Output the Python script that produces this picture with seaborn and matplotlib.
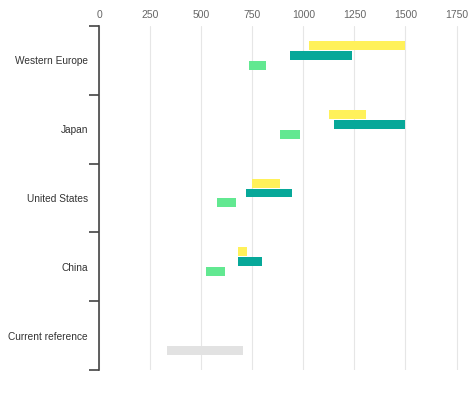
import pandas as pd
import numpy as np
import seaborn as sns
import matplotlib.pyplot as plt
from matplotlib.ticker import FixedLocator

## Data
regions = ["Western Europe", "Japan", "United States", "China", "Current reference"]
series = ["Scenario A", "Scenario B", "Scenario C", "Reference"]
colors = ["#fff15a", "#07a899", "#62e891", "#e2e2e2"]

# (start, end) per region, None where the series has no bar
scen_a = [(1030, 1500), (1125, 1305), (748, 888), (682, 722), None]
scen_b = [(937, 1237), (1152, 1500), (718, 942), (682, 800), None]
scen_c = [(735, 816), (885, 986), (578, 670), (523, 616), None]
reference = [None, None, None, None, (334, 705)]

xticks = [0, 250, 500, 750, 1000, 1250, 1500, 1750]

rows = []
for name, vals in zip(series, [scen_a, scen_b, scen_c, reference]):
    for reg, v in zip(regions, vals):
        if v is not None:
            rows.append({"region": reg, "series": name, "start": v[0], "end": v[1]})
df = pd.DataFrame(rows)

sns.set_style("white")
plt.rcParams["font.family"] = ["Liberation Sans", "DejaVu Sans"]

fig = plt.figure(figsize=(4.74, 3.94), dpi=100)
ax = fig.add_axes([0.209, 0.061, 0.765, 0.873])

sns.barplot(data=df, y="region", x="end", hue="series", order=regions,
            hue_order=series, palette=colors, saturation=1, orient="h",
            width=0.58, gap=0.1, errorbar=None, legend=False, ax=ax, zorder=3)

# turn the bars into floating ranges: move each bar's left edge to its start
for name, cont in zip(series, ax.containers):
    sub = df[df.series == name]
    for bar in cont:
        end = bar.get_width()
        hit = sub[np.isclose(sub.end, end)]
        if len(hit):
            start = hit.start.iloc[0]
            bar.set_x(start)
            bar.set_width(end - start)
        bar.set_linewidth(0)

ax.set_xlim(0, 1775)
ax.set_ylim(4.5, -0.5)
ax.set_xticks(xticks)
ax.xaxis.tick_top()
ax.tick_params(axis="x", length=0, pad=4, labelsize=7.5, labelcolor="#666666")
ax.grid(axis="x", color="#e6e6e6", linewidth=0.8, zorder=0)
ax.set_axisbelow(True)

ax.yaxis.set_minor_locator(FixedLocator(np.arange(-0.5, 5, 1)))
ax.tick_params(axis="y", which="major", length=0, pad=8, labelsize=7.3,
               labelcolor="#333333")
ax.tick_params(axis="y", which="minor", left=True, length=7, width=1.2,
               color="#444444")
for lab in ax.get_yticklabels():
    lab.set_y(lab.get_position()[1])
    lab.set_verticalalignment("center_baseline")
ax.set_xlabel("")
ax.set_ylabel("")

for s in ["top", "right", "bottom"]:
    ax.spines[s].set_visible(False)
ax.spines["left"].set_color("#444444")
ax.spines["left"].set_linewidth(1.2)

fig.savefig("out.png", dpi=100)
